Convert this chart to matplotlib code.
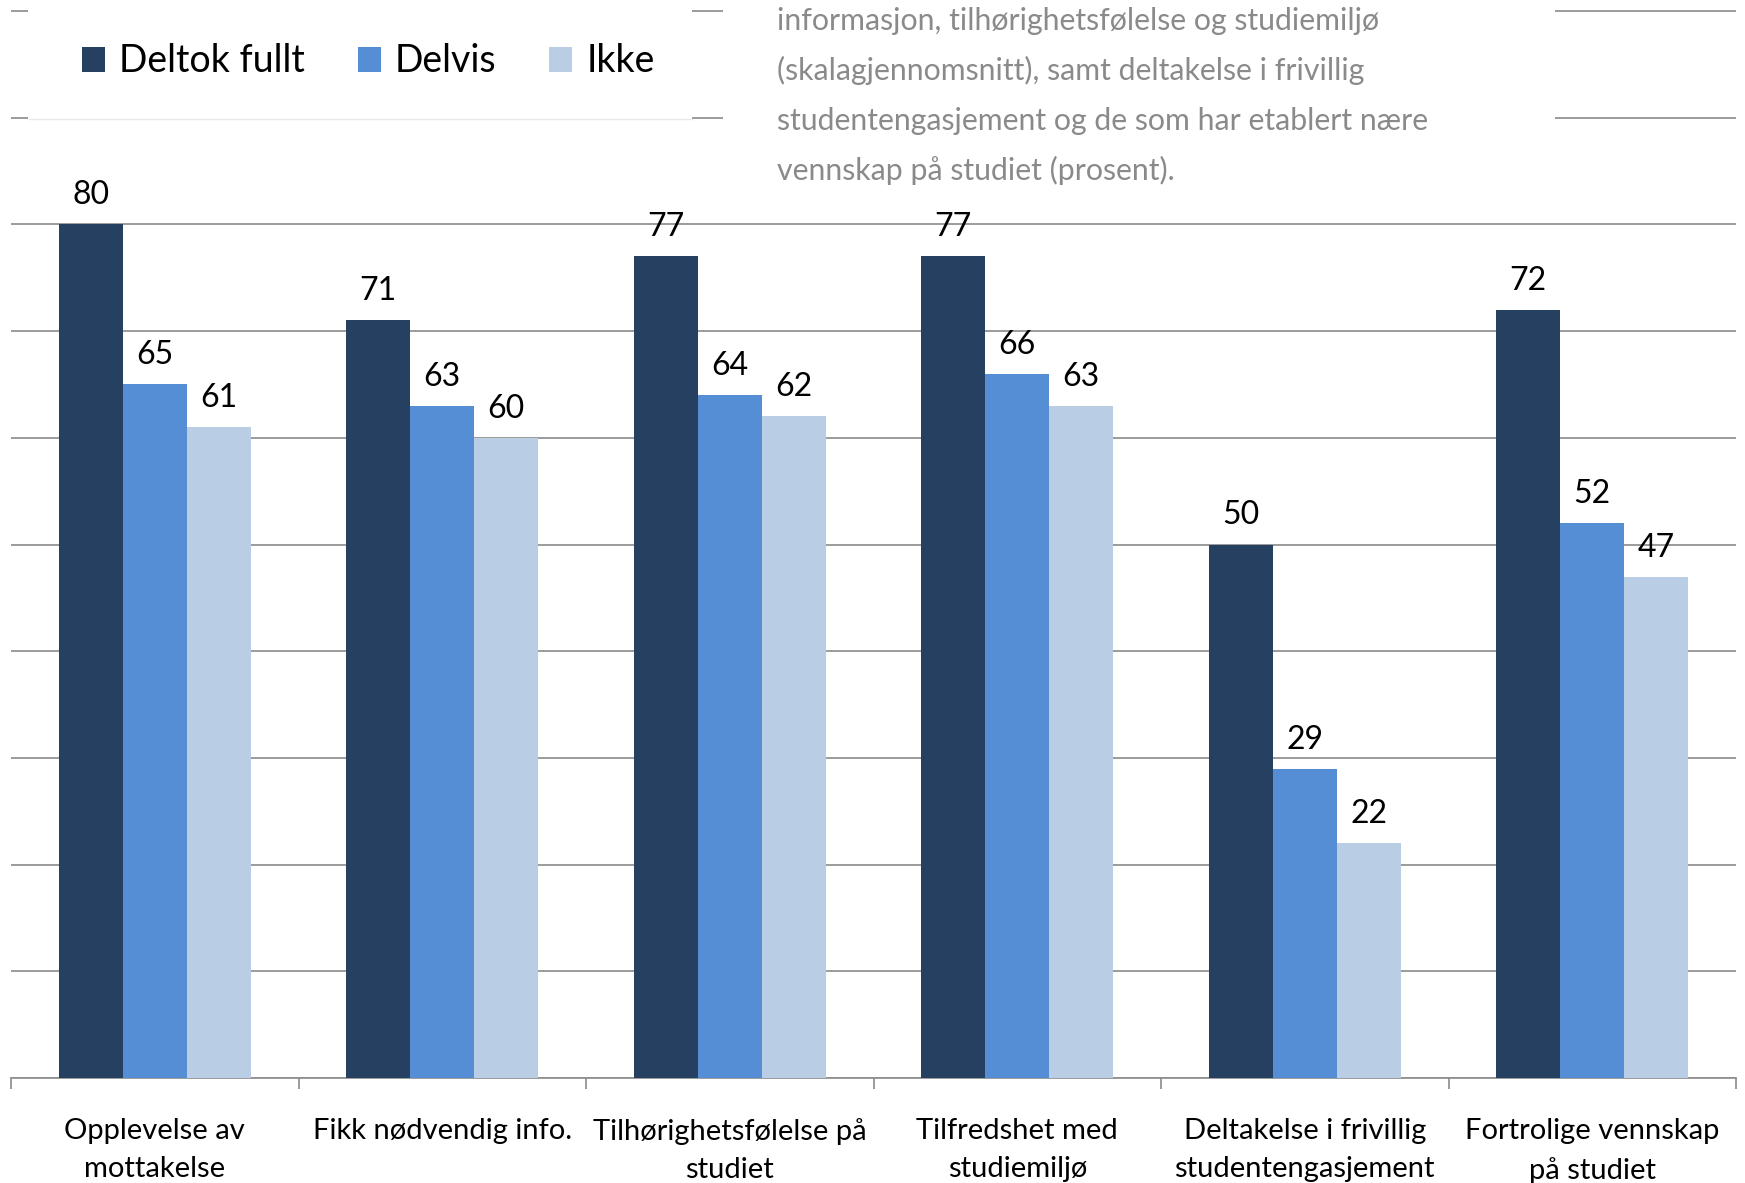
import matplotlib
matplotlib.use("Agg")
import matplotlib.pyplot as plt
from matplotlib.patches import Rectangle
from matplotlib.lines import Line2D
import numpy as np

plt.rcParams['font.family'] = ['Lato', 'DejaVu Sans']

# Data
categories = [
    "Opplevelse av\nmottakelse",
    "Fikk nødvendig info.",
    "Tilhørighetsfølelse på\nstudiet",
    "Tilfredshet med\nstudiemiljø",
    "Deltakelse i frivillig\nstudentengasjement",
    "Fortrolige vennskap\npå studiet",
]
series_names = ["Deltok fullt", "Delvis", "Ikke"]
deltok_fullt = [80, 71, 77, 77, 50, 72]
delvis = [65, 63, 64, 66, 29, 52]
ikke = [61, 60, 62, 63, 22, 47]
title_lines = [
    "informasjon, tilhørighetsfølelse og studiemiljø",
    "(skalagjennomsnitt), samt deltakelse i frivillig",
    "studentengasjement og de som har etablert nære",
    "vennskap på studiet (prosent).",
]

colors = ["#264061", "#558ED5", "#B9CDE5"]
grid_color = "#8f8f8f"

W, H = 1745, 1183
DPI = 100
fig = plt.figure(figsize=(W / DPI, H / DPI), dpi=DPI)

def fx(px):
    return px / W

def fy(py):
    return 1 - py / H

# Axes: y=0 at pixel row 1078, y=100 at row 11
unit = (1078 - 11) / 100.0
ytop = 100.5
ax = fig.add_axes([fx(11), fy(1078), fx(1736) - fx(11), ytop * unit / H])
ax.set_xlim(-0.5, len(categories) - 0.5)
ax.set_ylim(0, ytop)

x = np.arange(len(categories))
w = 0.2226
all_series = [deltok_fullt, delvis, ikke]
bars = []
for j, (vals, name, c) in enumerate(zip(all_series, series_names, colors)):
    b = ax.bar(x + (j - 1) * w, vals, width=w, color=c, label=name, zorder=3,
               linewidth=0)
    bars.append(b)
    for xi, v in zip(x + (j - 1) * w, vals):
        ax.annotate(str(v), (xi, v), xytext=(0, 14.4), textcoords="offset points",
                    ha="center", va="baseline", fontsize=23, color="black",
                    zorder=4)

# Gridlines
ax.set_yticks(np.arange(0, 101, 10))
ax.yaxis.grid(True, color=grid_color, linewidth=1.25, zorder=0)
ax.set_axisbelow(True)
ax.tick_params(axis="y", left=False, labelleft=False)
for s in ["top", "left", "right"]:
    ax.spines[s].set_visible(False)
ax.spines["bottom"].set_color(grid_color)
ax.spines["bottom"].set_linewidth(1.25)

# Category labels and boundary ticks
ax.set_xticks(x)
ax.set_xticklabels(categories, fontsize=21, linespacing=1.58)
ax.tick_params(axis="x", which="major", length=0, pad=29)
for lab in ax.get_xticklabels():
    lab.set_verticalalignment("top")
    lab.set_multialignment("center")
ax.set_xticks(np.arange(-0.5, len(categories), 1.0), minor=True)
ax.tick_params(axis="x", which="minor", length=8, width=1.25, color=grid_color,
               direction="out")

# White panels over the upper gridlines
fig.patches.append(Rectangle((fx(28), fy(118.5)), fx(692) - fx(28), fy(0) - fy(118.5),
                             transform=fig.transFigure, facecolor="white",
                             edgecolor="none", zorder=2))
fig.lines.append(Line2D([fx(28), fx(692)], [fy(119), fy(119)],
                        transform=fig.transFigure, color="#e8e8e8",
                        linewidth=1.0, zorder=3))
fig.patches.append(Rectangle((fx(723), fy(200)), fx(1555) - fx(723), fy(0) - fy(200),
                             transform=fig.transFigure, facecolor="white",
                             edgecolor="none", zorder=2))

# Legend
leg = fig.legend(handles=bars, labels=series_names, ncol=3, loc="upper left",
                 bbox_to_anchor=(fx(82), fy(43.5)), frameon=False, fontsize=27,
                 handlelength=0.61, handleheight=0.64, handletextpad=0.37,
                 columnspacing=1.42, borderpad=0, borderaxespad=0)
leg.set_zorder(5)

# Title text block, one line every 50 px
for k, line in enumerate(title_lines):
    fig.text(fx(777), fy(30 + 50 * k), line, ha="left", va="baseline",
             fontsize=21.8, color="#8a8a8a", zorder=5)

fig.savefig("out.png", dpi=DPI)
